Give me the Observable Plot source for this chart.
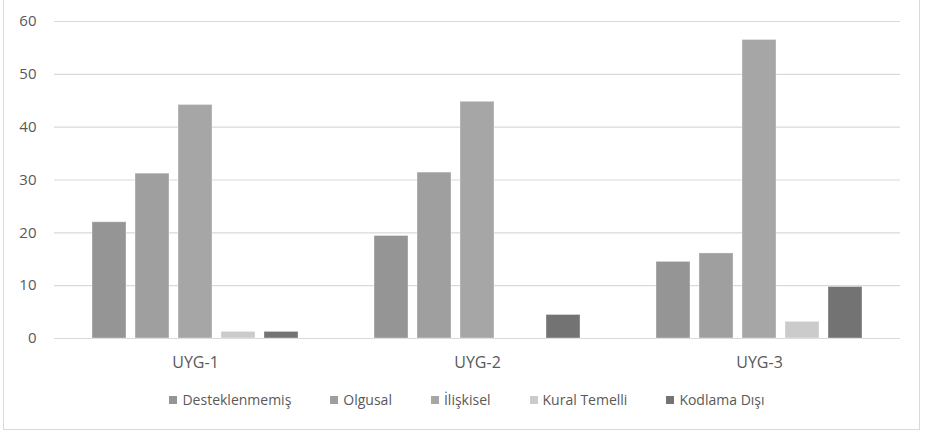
<!DOCTYPE html>
<html>
<head>
<meta charset="utf-8">
<script src="https://cdn.jsdelivr.net/npm/d3@7"></script>
<script src="https://cdn.jsdelivr.net/npm/@observablehq/plot@0.6"></script>
<style>
  html, body { margin: 0; padding: 0; background: #fff; }
  body { width: 925px; height: 433px; position: relative; overflow: hidden; font-family: "Open Sans", sans-serif; }
  #frame { position: absolute; left: 3px; top: -1px; width: 917px; height: 431px; border: 1px solid #d9d9d9; box-sizing: border-box; }
  #chart { position: absolute; left: 0; top: 0; }
  #legend { position: absolute; top: 390px; left: 0; width: 934px; display: flex; justify-content: center; align-items: center; font-size: 14px; color: #595959; }
  .item { display: flex; align-items: center; margin: 0 19.5px; }
  .sw { width: 8px; height: 8px; margin-right: 5px; }
</style>
</head>
<body>
<div id="frame"></div>
<div id="chart"></div>
<div id="legend"></div>
<script>
const groups = ["UYG-1", "UYG-2", "UYG-3"];
const series = ["Desteklenmemiş", "Olgusal", "İlişkisel", "Kural Temelli", "Kodlama Dışı"];
const desteklenmemis = [22.0, 19.4, 14.5];
const olgusal = [31.2, 31.4, 16.1];
const iliskisel = [44.2, 44.8, 56.5];
const kuralTemelli = [1.25, 0, 3.15];
const kodlamaDisi = [1.25, 4.45, 9.75];
const yTicks = [0, 10, 20, 30, 40, 50, 60];

const colors = ["#959595", "#9f9f9f", "#a6a6a6", "#cbcbcb", "#737373"];

const seriesValues = [desteklenmemis, olgusal, iliskisel, kuralTemelli, kodlamaDisi];
const data = [];
groups.forEach((g, gi) => {
  series.forEach((s, si) => {
    data.push({group: g, series: s, value: seriesValues[si][gi]});
  });
});

const chart = Plot.plot({
  width: 925,
  height: 375,
  marginLeft: 53,
  marginRight: 25,
  marginTop: 21,
  marginBottom: 37,
  style: {fontFamily: "'Open Sans', sans-serif", fontSize: "15px", color: "#595959", background: "transparent"},
  fx: {domain: groups, padding: 0, label: null, axis: "bottom", tickSize: 0, tickPadding: 18},
  x: {domain: series, paddingInner: 0.215, paddingOuter: 0.87, axis: null},
  y: {domain: [0, 60], ticks: yTicks, tickSize: 0, tickPadding: 18, label: null},
  color: {domain: series, range: colors},
  marks: [
    Plot.gridY(yTicks, {stroke: "#d9d9d9", strokeOpacity: 1, strokeWidth: 1.2}),
    Plot.barY(data, {
      fx: "group", x: "series", y: "value", fill: "series",
      stroke: "#ffffff", strokeOpacity: 0.35, strokeWidth: 1,
      filter: d => d.value > 0
    })
  ]
});
chart.querySelectorAll("[aria-label='fx-axis tick label'] text").forEach(t => { t.setAttribute("fill", "#595959"); t.style.fontSize = "16px"; });
chart.querySelectorAll("[aria-label='y-axis tick label'] text").forEach(t => t.setAttribute("fill", "#595959"));
document.getElementById("chart").appendChild(chart);

const legend = document.getElementById("legend");
series.forEach((s, i) => {
  const item = document.createElement("div");
  item.className = "item";
  const sw = document.createElement("div");
  sw.className = "sw";
  sw.style.background = colors[i];
  const tx = document.createElement("span");
  tx.textContent = s;
  item.appendChild(sw);
  item.appendChild(tx);
  legend.appendChild(item);
});
</script>
</body>
</html>
